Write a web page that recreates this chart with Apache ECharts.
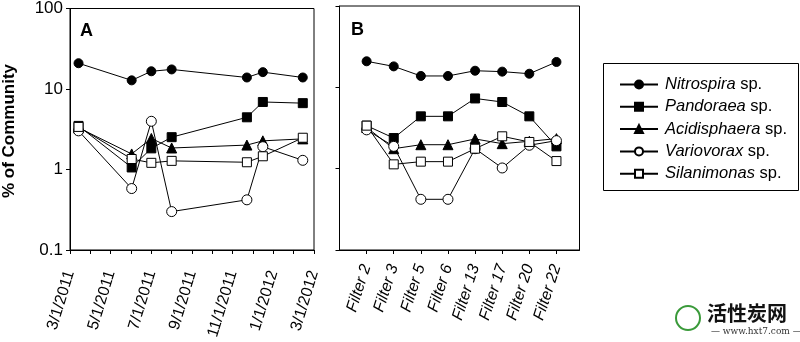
<!DOCTYPE html>
<html><head><meta charset="utf-8">
<script src="https://cdn.jsdelivr.net/npm/echarts@6/dist/echarts.min.js"></script>
<style>html,body{margin:0;padding:0;background:#fff}#c{width:800px;height:342px}</style>
</head><body><div id="c"></div>
<script>
// ---- data ----
const seriesNames = ['Nitrospira sp.', 'Pandoraea sp.', 'Acidisphaera sp.', 'Variovorax sp.', 'Silanimonas sp.'];
// Panel A: sampling dates
const datesA = ['3/14/2011', '6/2/2011', '7/1/2011', '8/1/2011', '11/22/2011', '12/16/2011', '2/14/2012'];
const nitrospiraA   = [20.9, 12.8, 16.6, 17.5, 13.9, 16.2, 13.9];
const pandoraeaA    = [3.48, 1.06, 1.83, 2.52, 4.45, 6.9, 6.67];
const acidisphaeraA = [3.3, 1.56, 2.43, 1.85, 2.01, 2.27, 2.4];
const variovoraxA   = [3.02, 0.58, 3.97, 0.30, 0.42, 1.92, 1.30];
const silanimonasA  = [3.38, 1.35, 1.21, 1.28, 1.23, 1.46, 2.48];
// Panel B: filters
const filtersB = ['Filter 2', 'Filter 3', 'Filter 5', 'Filter 6', 'Filter 13', 'Filter 17', 'Filter 20', 'Filter 22'];
const nitrospiraB   = [20.9, 18.1, 13.8, 13.8, 16.0, 15.6, 14.7, 20.5];
const pandoraeaB    = [3.38, 2.38, 4.4, 4.4, 7.3, 6.6, 4.4, 1.88];
const acidisphaeraB = [3.22, 1.76, 1.97, 1.97, 2.32, 2.03, 2.17, 2.34];
const variovoraxB   = [3.0, 1.88, 0.42, 0.42, 1.76, 1.02, 1.94, 2.21];
const silanimonasB  = [3.38, 1.13, 1.22, 1.22, 1.76, 2.5, 2.13, 1.24];
// axis ticks
const yTicks = [0.1, 1, 10, 100];
const monthTicksA = [0,1,2,3,4,5,6,7,8,9,10,11,12]; // months since 3/1/2011
const monthLabelsA = [0,2,4,6,8,10,12];

// ---- helpers ----
function toMonths(s) {
  const [m, d, y] = s.split('/').map(Number);
  const dim = new Date(y, m, 0).getDate();
  return (y - 2011) * 12 + (m - 3) + (d - 1) / dim;
}
function monthLabel(v) {
  const mm = 3 + Math.round(v);
  const y = 2011 + Math.floor((mm - 1) / 12);
  const m = ((mm - 1) % 12) + 1;
  return m + '/1/' + y;
}
const FONT = "'Liberation Sans', Arial, sans-serif";
const styles = [
  { symbol: 'circle', size: 9, fill: '#000' },
  { symbol: 'rect', size: 9, fill: '#000' },
  { symbol: 'triangle', size: 10, fill: '#000' },
  { symbol: 'circle', size: 10, fill: '#fff' },
  { symbol: 'rect', size: 9, fill: '#fff' }
];
const valsA = [nitrospiraA, pandoraeaA, acidisphaeraA, variovoraxA, silanimonasA];
const valsB = [nitrospiraB, pandoraeaB, acidisphaeraB, variovoraxB, silanimonasB];

function mkSeries(name, st, idx, data) {
  return {
    name, type: 'line', xAxisIndex: idx, yAxisIndex: idx, data,
    symbol: st.symbol, symbolSize: st.size, showSymbol: true,
    lineStyle: { color: '#000', width: 1 },
    itemStyle: { color: st.fill, borderColor: '#000', borderWidth: 1 },
    emphasis: { disabled: true }, animation: false, z: 2
  };
}
const series = [];
seriesNames.forEach((n, i) => {
  series.push(mkSeries(n, styles[i], 0, datesA.map((d, j) => [toMonths(d), valsA[i][j]])));
});
seriesNames.forEach((n, i) => {
  series.push(mkSeries(n, styles[i], 1, filtersB.map((f, j) => [j + 1, valsB[i][j]])));
});

const yAxisBase = (showLabel) => ({
  type: 'log', logBase: 10, min: 0.1, max: 100,
  axisLine: { show: true, lineStyle: { color: '#000', width: 1 } },
  axisTick: { show: true, length: 4, lineStyle: { color: '#000' } },
  splitLine: { show: false },
  axisLabel: { show: showLabel, color: '#000', fontSize: 17, fontFamily: FONT, margin: 7,
    formatter: v => String(v) }
});

const option = {
  animation: false,
  backgroundColor: '#fff',
  grid: [
    { left: 70, top: 6, width: 244, height: 244, show: true, borderColor: '#000', borderWidth: 1 },
    { left: 339.5, top: 6, width: 240, height: 244, show: true, borderColor: '#000', borderWidth: 1 }
  ],
  xAxis: [
    { type: 'value', gridIndex: 0, min: 0, max: 12, interval: 1,
      axisLine: { show: true, onZero: false, lineStyle: { color: '#000' } },
      axisTick: { show: true, length: 4, lineStyle: { color: '#000' }, customValues: monthTicksA },
      splitLine: { show: false },
      axisLabel: { color: '#000', fontSize: 16, fontFamily: FONT, rotate: 73, margin: 21, padding: [8, 0, 0, 0],
        customValues: monthLabelsA, formatter: v => monthLabel(v) } },
    { type: 'value', gridIndex: 1, min: 0, max: 8.85, interval: 1,
      axisLine: { show: true, onZero: false, lineStyle: { color: '#000' } },
      axisTick: { show: true, length: 4, lineStyle: { color: '#000' }, customValues: filtersB.map((f, i) => i + 1) },
      splitLine: { show: false },
      axisLabel: { color: '#000', fontSize: 16, fontStyle: 'italic', fontFamily: FONT, rotate: 72, margin: 15, padding: [8, 0, 0, 0],
        customValues: filtersB.map((f, i) => i + 1), formatter: v => filtersB[Math.round(v) - 1] || '' } }
  ],
  yAxis: [
    Object.assign({ gridIndex: 0 }, yAxisBase(true)),
    Object.assign({ gridIndex: 1 }, yAxisBase(false))
  ],
  legend: {
    data: seriesNames, orient: 'vertical', left: 614, top: 71,
    itemWidth: 38, itemHeight: 10, itemGap: 5.3,
    selectedMode: false,
    formatter: n => '{i|' + n.replace(' sp.', '') + '} sp.',
    textStyle: { color: '#000', fontSize: 16.5, fontFamily: FONT, padding: [0, 0, 0, 2],
      rich: { i: { fontStyle: 'italic', fontSize: 16.5, fontFamily: FONT, color: '#000' } } }
  },
  graphic: [
    { type: 'rect', shape: { x: 603.5, y: 63.5, width: 195, height: 127 },
      style: { fill: 'none', stroke: '#000', lineWidth: 1 } },
    { type: 'text', x: 9, y: 131, rotation: Math.PI / 2,
      style: { text: '% of Community', font: "bold 17px " + FONT, fill: '#000', align: 'center', verticalAlign: 'middle' } },
    { type: 'text', x: 80, y: 22, style: { text: 'A', font: "bold 18px " + FONT, fill: '#000' } },
    { type: 'text', x: 351, y: 21, style: { text: 'B', font: "bold 18px " + FONT, fill: '#000' } },
    { type: 'circle', shape: { cx: 688, cy: 318, r: 12 }, style: { fill: 'none', stroke: '#3a9a3a', lineWidth: 2 } },
    { type: 'text', x: 707, y: 303, style: { text: '活性炭网', font: "bold 20px 'Noto Sans CJK SC'", fill: '#111' } },
    { type: 'text', x: 711, y: 327, style: { text: '— www.hxt7.com —', font: "9px 'DejaVu Serif', serif", fill: '#333' } }
  ],
  series
};
const chart = echarts.init(document.getElementById('c'), null, { renderer: 'canvas' });
chart.setOption(option);
</script></body></html>
